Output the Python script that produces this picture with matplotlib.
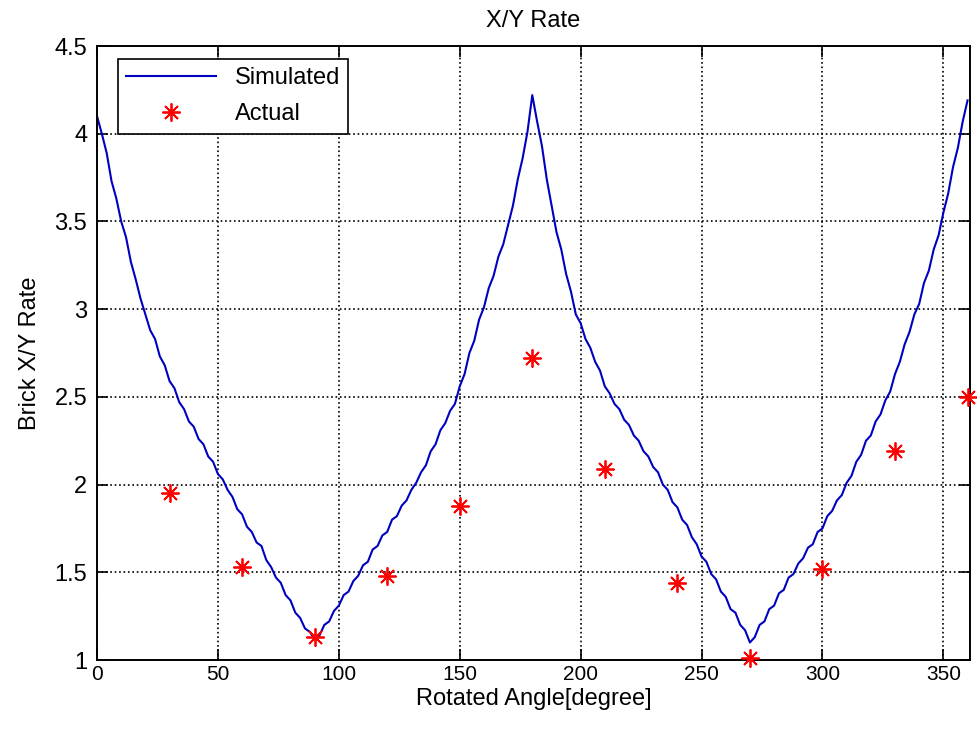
import numpy as np
import matplotlib
matplotlib.use("Agg")
import matplotlib.pyplot as plt

plt.rcParams['font.family'] = ['Liberation Sans', 'DejaVu Sans']

# simulated X/Y rate, read every 2 degrees
sim_angle = np.arange(0, 361, 2)
sim_rate = [
    4.10, 4.00, 3.89, 3.73, 3.63, 3.50, 3.41, 3.27, 3.17, 3.06,
    2.97, 2.88, 2.83, 2.73, 2.68, 2.59, 2.55, 2.47, 2.43, 2.36,
    2.33, 2.26, 2.23, 2.16, 2.13, 2.06, 2.03, 1.97, 1.93, 1.86,
    1.83, 1.76, 1.73, 1.67, 1.65, 1.57, 1.53, 1.47, 1.44, 1.37,
    1.34, 1.27, 1.24, 1.18, 1.16, 1.12,
    1.14, 1.20, 1.22, 1.28, 1.31, 1.37, 1.39, 1.45, 1.48, 1.54,
    1.56, 1.63, 1.65, 1.71, 1.73, 1.80, 1.82, 1.88, 1.91, 1.97,
    2.01, 2.07, 2.11, 2.19, 2.23, 2.31, 2.35, 2.42, 2.46, 2.56,
    2.63, 2.75, 2.82, 2.94, 3.01, 3.12, 3.19, 3.30, 3.37, 3.48,
    3.59, 3.74, 3.86, 4.01, 4.22,
    4.07, 3.93, 3.74, 3.59, 3.44, 3.34, 3.20, 3.10, 2.97, 2.92,
    2.83, 2.78, 2.70, 2.65, 2.56, 2.52, 2.46, 2.43, 2.37, 2.34,
    2.28, 2.25, 2.19, 2.16, 2.10, 2.07, 2.00, 1.97, 1.90, 1.87,
    1.80, 1.77, 1.70, 1.66, 1.59, 1.56, 1.49, 1.46, 1.39, 1.36,
    1.29, 1.27, 1.20, 1.17, 1.10,
    1.13, 1.20, 1.22, 1.29, 1.31, 1.38, 1.40, 1.47, 1.49, 1.55,
    1.58, 1.64, 1.66, 1.73, 1.75, 1.82, 1.85, 1.91, 1.94, 2.01,
    2.05, 2.13, 2.17, 2.25, 2.28, 2.36, 2.40, 2.48, 2.53, 2.63,
    2.70, 2.80, 2.87, 2.97, 3.03, 3.15, 3.22, 3.34, 3.42, 3.55,
    3.66, 3.81, 3.92, 4.07, 4.19,
]

act_angle = [30, 60, 90, 120, 150, 180, 210, 240, 270, 300, 330, 360]
act_rate = [1.95, 1.53, 1.13, 1.48, 1.88, 2.72, 2.09, 1.44, 1.01, 1.52, 2.19, 2.50]

fig = plt.figure(figsize=(9.77, 7.34), dpi=100)
ax = fig.add_axes([0.0993, 0.1008, 0.8935, 0.8365])

ax.plot(sim_angle, sim_rate, color='#0000c0', lw=1.5, label='Simulated')
ax.plot(act_angle, act_rate, ls='none', marker=(8, 2, 0), ms=13, mew=1.3,
        color='red', label='Actual', clip_on=False, zorder=5)

ax.set_xlim(0, 361)
ax.set_ylim(1, 4.5)
ax.set_xticks(np.arange(0, 351, 50))
ax.set_yticks(np.arange(1, 4.51, 0.5))
ax.set_yticklabels(['1', '1.5', '2', '2.5', '3', '3.5', '4', '4.5'])
ax.grid(True, color='black', ls=':', lw=1.2)
ax.tick_params(direction='in', top=True, right=True, length=8, width=1.2,
               labelsize=15, colors='black')
ax.tick_params(axis='y', labelsize=17, pad=7)
for sp in ax.spines.values():
    sp.set_linewidth(1.4)

ax.set_title('X/Y Rate', fontsize=17, pad=14)
ax.set_xlabel('Rotated Angle[degree]', fontsize=17, labelpad=3)
ax.set_ylabel('Brick X/Y Rate', fontsize=17, labelpad=10)

leg = ax.legend(loc='upper left', bbox_to_anchor=(0.024, 0.979), fontsize=17,
                handlelength=3.8, fancybox=False, framealpha=1,
                edgecolor='black', borderaxespad=0, borderpad=0.35,
                labelspacing=0.6)
leg.get_frame().set_linewidth(1.2)

fig.savefig('out.png', dpi=100)
